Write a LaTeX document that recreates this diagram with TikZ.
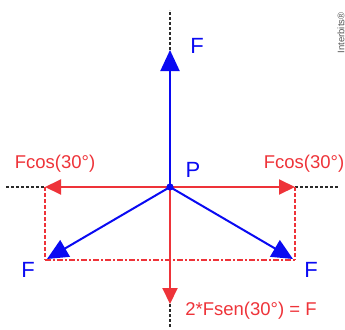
\documentclass[tikz,border=0pt]{standalone}
\usepackage{fontspec}
\setmainfont{Liberation Sans}
\usetikzlibrary{arrows.meta,positioning}
\definecolor{forceblue}{HTML}{0A0AF2}
\definecolor{compred}{HTML}{EE3339}
\definecolor{guidegray}{HTML}{2A2A2A}

\begin{document}
\begin{tikzpicture}[x=1pt, y=-1pt,
    guide/.style={guidegray, line width=1.4pt, dash pattern=on 3pt off 2pt},
    force/.style={forceblue, line width=2pt, -{Triangle[length=21pt, width=19pt]}},
    comp/.style={compred, line width=2pt, -{Triangle[length=16pt, width=15pt]}},
    bluelabel/.style={forceblue, font=\fontsize{22}{22}\selectfont},
    redlabel/.style={compred, font=\fontsize{18.5}{19}\selectfont}]
  \useasboundingbox (0,0) rectangle (345,329);
  % Points
  \coordinate (P) at (170,187);
  \coordinate (topend) at (170,10);
  \coordinate (toptip) at (170,50);
  \coordinate (leftend) at (6,187);
  \coordinate (lefttip) at (45,187);
  \coordinate (rightend) at (339,187);
  \coordinate (righttip) at (295,187);
  \coordinate (botleft) at (45,260);
  \coordinate (botright) at (295,260);
  \coordinate (fltip) at (47,259);
  \coordinate (frtip) at (293,259);
  \coordinate (downtip) at (170,304);
  \coordinate (downend) at (170,328);
  % Guide lines
  \draw[guide] (toptip) -- (topend);
  \draw[guide] (leftend) -- (lefttip);
  \draw[guide] (righttip) -- (rightend);
  \draw[guide] (downtip) -- (downend);
  % Parallelogram of components
  \draw[compred, line width=1.5pt, dash pattern=on 4pt off 2pt] (lefttip) -- (botleft);
  \draw[compred, line width=1.5pt, dash pattern=on 4pt off 2pt] (righttip) -- (botright);
  \draw[compred, line width=1.5pt, dash pattern=on 6pt off 2pt on 2pt off 2pt] (botleft) -- (botright);
  % Components
  \draw[comp] (P) -- (lefttip);
  \draw[comp] (P) -- (righttip);
  \draw[comp] (P) -- (downtip);
  % Forces
  \draw[force] (P) -- (toptip);
  \draw[force] (P) -- (fltip);
  \draw[force] (P) -- (frtip);
  \fill[forceblue] (P) circle (3.6pt);
  % Labels
  \node[bluelabel] (ftop) at (197,46) {F};
  \node[bluelabel] (plabel) at (193,170) {P};
  \node[bluelabel] (fleft) at (28,270) {F};
  \node[bluelabel] (fright) at (311,270) {F};
  \node[redlabel] (cosleft) at (55,164) {Fcos(30°)};
  \node[redlabel] (cosright) at (304,164) {Fcos(30°)};
  \node[redlabel] (sum) at (251,311) {2*Fsen(30°) = F};
  \node[rotate=90, text=guidegray!80, font=\fontsize{9.5}{10}\selectfont] (mark) at (341,33) {Interbits®};
\end{tikzpicture}
\end{document}
